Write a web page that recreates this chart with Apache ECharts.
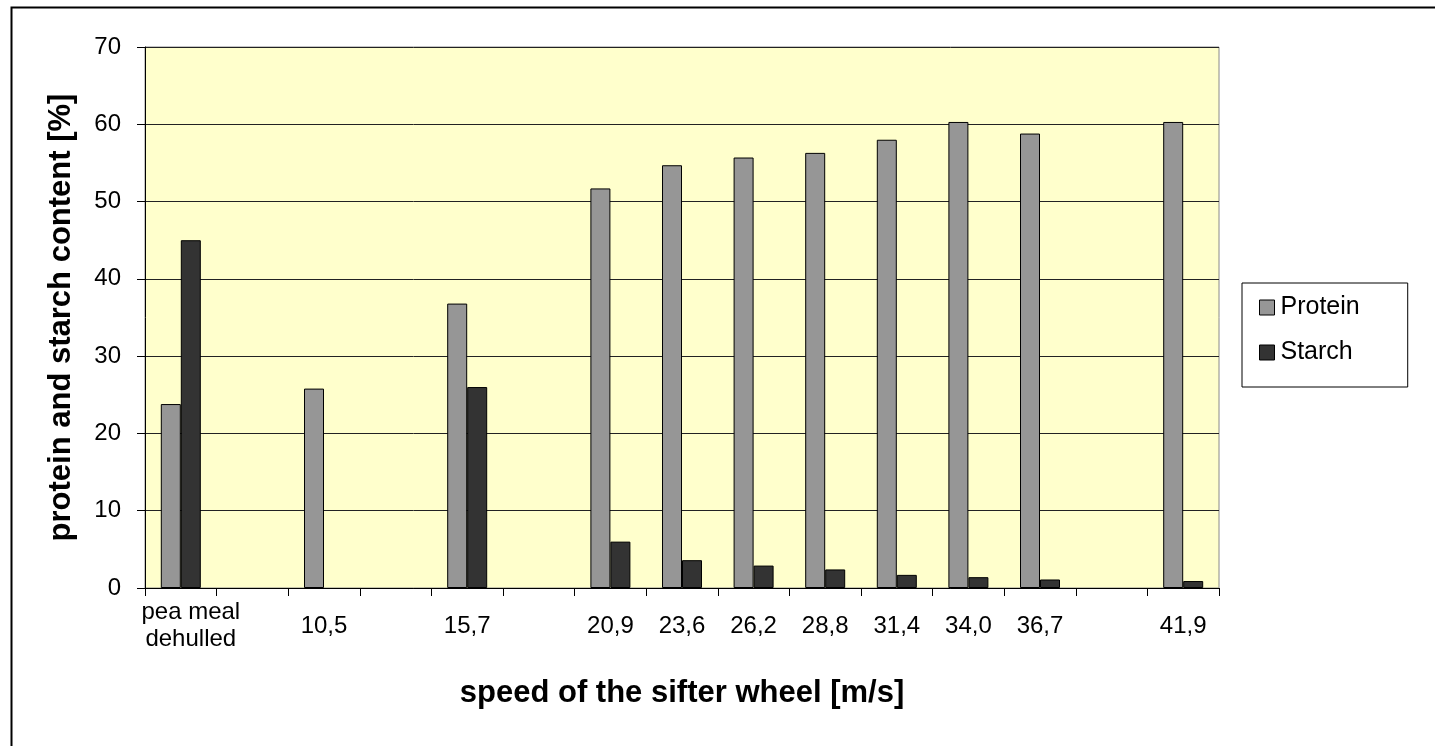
<!DOCTYPE html>
<html>
<head>
<meta charset="utf-8">
<script src="https://cdn.jsdelivr.net/npm/echarts@6/dist/echarts.min.js"></script>
<style>
html,body{margin:0;padding:0;background:#fff;}
#chart{width:1435px;height:746px;}
</style>
</head>
<body>
<div id="chart"></div>
<script>
const categories = ['pea meal\ndehulled', '', '10,5', ' ', '15,7', '  ', '20,9', '23,6', '26,2', '28,8', '31,4', '34,0', '36,7', '   ', '41,9'];
const protein = [23.8, null, 25.8, null, 36.8, null, 51.7, 54.7, 55.7, 56.3, 58.0, 60.3, 58.8, null, 60.3];
const starch  = [45.0, null, null, null, 26.0, null, 6.0, 3.6, 2.9, 2.4, 1.7, 1.4, 1.1, null, 0.9];
const yTicks = [0, 10, 20, 30, 40, 50, 60, 70];
const seriesNames = ['Protein', 'Starch'];
const xTitle = 'speed of the sifter wheel [m/s]';
const yTitle = 'protein and starch content [%]';

const FONT = '"Liberation Sans", Arial, sans-serif';
const chart = echarts.init(document.getElementById('chart'), null, {renderer: 'canvas'});

const catData = categories.map((c, i) => i === 0
  ? {value: c, textStyle: {padding: [0, 0, 0, 20], verticalAlign: 'middle', lineHeight: 27,
      fontFamily: FONT, fontSize: 24, color: '#000'}}
  : c);

chart.setOption({
  animation: false,
  backgroundColor: '#ffffff',
  textStyle: {fontFamily: FONT},
  graphic: [{
    type: 'rect', left: 9, top: 5, silent: true,
    shape: {width: 1440, height: 760},
    style: {fill: 'none', stroke: '#000', lineWidth: 2}
  }],
  grid: {
    left: 145, right: 216, top: 47, bottom: 158,
    show: true, backgroundColor: '#FFFFCC', borderColor: '#8a8a8a', borderWidth: 1,
    outerBoundsMode: 'none'
  },
  legend: {
    orient: 'vertical',
    left: 1242, top: 283,
    padding: [12, 48, 22, 17],
    itemGap: 20,
    itemWidth: 15, itemHeight: 15,
    backgroundColor: '#fff',
    borderColor: '#000', borderWidth: 1,
    icon: 'rect',
    itemStyle: {borderColor: '#000', borderWidth: 1},
    textStyle: {fontFamily: FONT, fontSize: 25, color: '#000', padding: [0,0,0,1]},
    data: seriesNames
  },
  xAxis: {
    type: 'category',
    data: catData,
    name: xTitle,
    nameLocation: 'middle',
    nameGap: 90,
    nameTextStyle: {fontFamily: FONT, fontSize: 31, fontWeight: 'bold', color: '#000'},
    axisLine: {lineStyle: {color: '#000', width: 1}},
    axisTick: {show: true, length: 8, lineStyle: {color: '#000'}},
    axisLabel: {
      interval: 0, fontFamily: FONT, fontSize: 24, color: '#000',
      verticalAlign: 'middle', margin: 38, lineHeight: 27
    },
    splitLine: {show: false}
  },
  yAxis: {
    type: 'value',
    min: 0, max: 70, interval: 10,
    name: yTitle,
    nameLocation: 'middle',
    nameGap: 68,
    nameRotate: 90,
    nameTextStyle: {fontFamily: FONT, fontSize: 31, fontWeight: 'bold', color: '#000'},
    axisLine: {show: true, lineStyle: {color: '#000', width: 1}},
    axisTick: {show: true, length: 8, lineStyle: {color: '#000'}},
    axisLabel: {
      fontFamily: FONT, fontSize: 24, color: '#000', margin: 24,
      formatter: v => yTicks.includes(v) ? String(v) : ''
    },
    splitLine: {show: true, lineStyle: {color: '#222', width: 1}}
  },
  series: [
    {
      name: seriesNames[0], type: 'bar', data: protein,
      barWidth: 20, barGap: '0%',
      itemStyle: {color: '#969696', borderColor: '#000', borderWidth: 1}
    },
    {
      name: seriesNames[1], type: 'bar', data: starch,
      barWidth: 20, barGap: '0%',
      itemStyle: {color: '#333333', borderColor: '#000', borderWidth: 1}
    }
  ]
});
</script>
</body>
</html>
